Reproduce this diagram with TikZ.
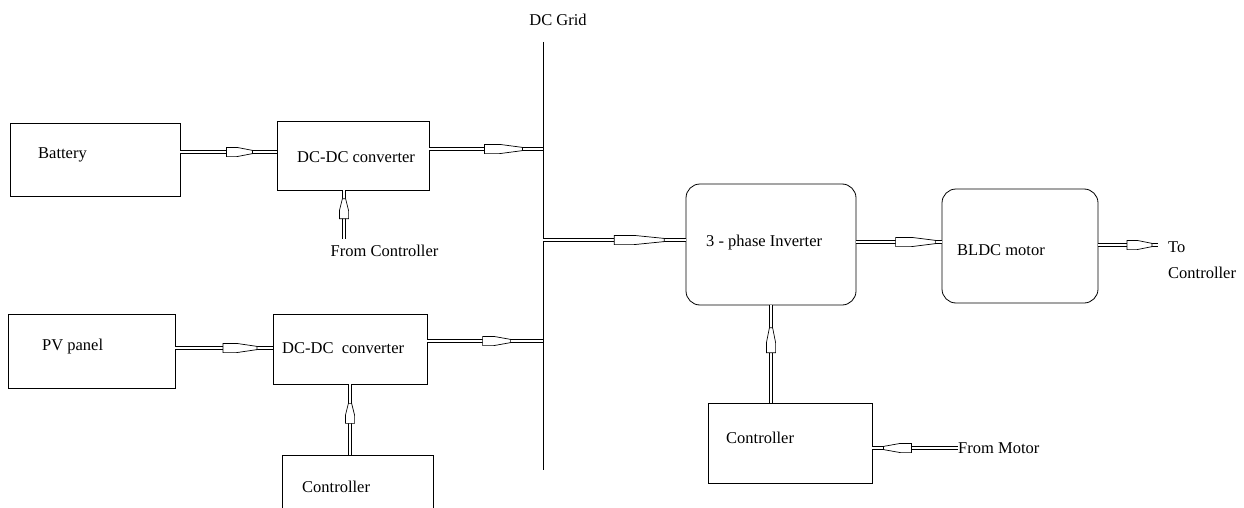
\documentclass[tikz,border=0pt]{standalone}
\usepackage{fontspec}
\setmainfont{Liberation Serif}
\usetikzlibrary{decorations.markings}

\tikzset{
  box/.style={draw, line width=.8pt, inner sep=0pt},
  rbox/.style={box, rounded corners=14pt},
  txt/.style={inner sep=0pt, anchor=west, font=\fontsize{16.5}{26}\selectfont},
  flow/.style 2 args={preaction={draw, line width=.7pt, double, double distance=2.6pt},
    postaction={decorate, decoration={markings, mark=at position #1 with
      {\draw[line width=.7pt, fill=white] (-#2pt,4.6pt) -- (-0.6*#2pt,4.6pt) -- (0pt,1.6pt)
        -- (0pt,-1.6pt) -- (-0.6*#2pt,-4.6pt) -- (-#2pt,-4.6pt) -- cycle;}}}}
}

\begin{document}
\begin{tikzpicture}[x=1pt, y=-1pt]
\useasboundingbox (0,0) rectangle (1244,508);
\clip (0,0) rectangle (1244,508);
% Blocks
    \node[box, minimum width=170pt, minimum height=73pt] (bat) at (95,159.5) {};
    \node[box, minimum width=152pt, minimum height=69pt] (dc1) at (353,155.5) {};
    \node[box, minimum width=167pt, minimum height=74pt] (pv) at (91.5,351) {};
    \node[box, minimum width=154pt, minimum height=70pt] (dc2) at (350,349) {};
    \node[box, minimum width=151pt, minimum height=80pt] (ctrl1) at (357.5,495) {};
    \node[rbox, minimum width=170pt, minimum height=121pt] (inv) at (771,244.5) {};
    \node[rbox, minimum width=156pt, minimum height=114pt] (bldc) at (1020,246) {};
    \node[box, minimum width=164pt, minimum height=80pt] (ctrl2) at (790,443) {};
% Texts
    \node[txt] (batl) at (38,155) {Battery};
    \node[txt] (dc1l) at (297,157) {DC-DC converter};
    \node[txt] (pvl) at (42,347) {PV panel};
    \node[txt] (dc2l) at (282,348) {DC-DC~ converter};
    \node[txt] (ctrl1l) at (302,487) {Controller};
    \node[txt] (invl) at (706,243) {3 - phase Inverter};
    \node[txt] (bldcl) at (957,250) {BLDC motor};
    \node[txt] (ctrl2l) at (726,438) {Controller};
    \node[txt, anchor=center] (fromc) at (384.5,251) {From Controller};
    \node[txt] (fmot) at (958,448) {From Motor};
    \node[txt, align=left] (tocl) at (1168,260) {To\\Controller};
    \node[txt, anchor=center] (gridl) at (558,20) {DC Grid};
% DC grid bus
    \coordinate (gtop) at (543,42);
    \coordinate (gbot) at (543,470);
    \draw[line width=.9pt] (gtop) -- (gbot);
    \coordinate (g1) at (543,149);
    \coordinate (g2) at (543,341);
    \coordinate (g3) at (543,240);
    \coordinate (ib) at (0,242);
    \coordinate (fc) at (344,239);
    \coordinate (toc) at (1158,245);
% Power flow
    \path[flow={.75}{26}] (bat.east |- 0,152) -- (dc1.west |- 0,152);
    \path[flow={.82}{38}] (dc1.east |- g1) -- (g1);
    \path[flow={.84}{34}] (pv.east |- 0,348) -- (dc2.west |- 0,348);
    \path[flow={.72}{28}] (dc2.east |- g2) -- (g2);
    \path[flow={.85}{50}] (g3) -- (g3 -| inv.west);
    \path[flow={.93}{40}] (inv.east |- ib) -- (bldc.west |- ib);
    \path[flow={.9}{25}] (bldc.east |- toc) -- (toc);
% Control signals
    \path[flow={.83}{20}] (fc) -- (fc |- dc1.south);
    \path[flow={.73}{20}] (dc2.south |- ctrl1.north) -- (dc2.south);
    \path[flow={.77}{25}] (inv.south |- ctrl2.north) -- (inv.south);
    \path[flow={.87}{28}] (fmot.west) -- (fmot.west -| ctrl2.east);
\end{tikzpicture}
\end{document}
